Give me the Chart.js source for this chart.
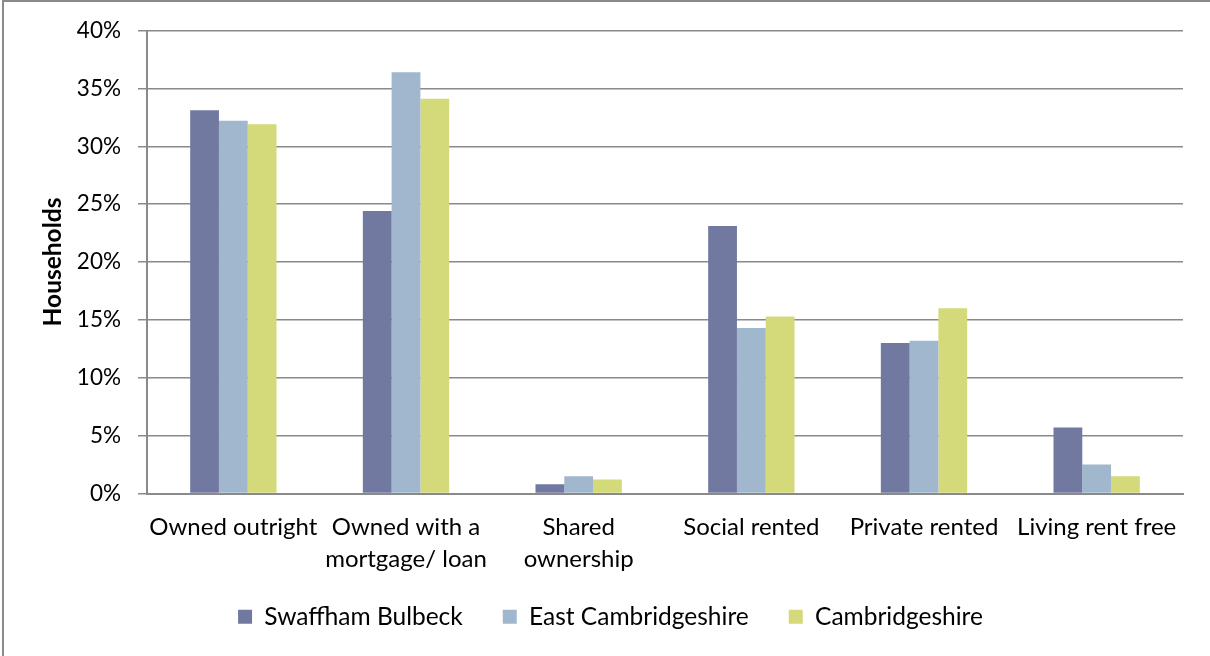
<!DOCTYPE html>
<html>
<head>
<meta charset="utf-8">
<title>Households by tenure</title>
<script src="https://cdn.jsdelivr.net/npm/chart.js@4"></script>
<style>
  html, body { margin: 0; padding: 0; background: #fff; }
  #wrap { position: relative; width: 1210px; height: 656px; overflow: hidden; }
  #frame { position: absolute; left: 2px; top: 0px; width: 1300px; height: 700px;
           border-left: 2px solid #8a8a8a; border-top: 2px solid #8a8a8a; box-sizing: border-box; pointer-events: none; }
  canvas { position: absolute; left: 0; top: 0; }
</style>
</head>
<body>
<div id="wrap">
  <canvas id="chart" width="1210" height="656"></canvas>
  <div id="frame"></div>
</div>
<script>
// tenure categories (two-line labels where the axis wraps them)
const categories = [
  'Owned outright',
  ['Owned with a', 'mortgage/ loan'],
  ['Shared', 'ownership'],
  'Social rented',
  'Private rented',
  'Living rent free'
];

// share of households, percent
const swaffhamBulbeck = [33.1, 24.4, 0.8, 23.1, 13.0, 5.7];
const eastCambridgeshire = [32.2, 36.4, 1.5, 14.3, 13.2, 2.5];
const cambridgeshire = [31.9, 34.1, 1.2, 15.3, 16.0, 1.5];

const yTicks = [0, 5, 10, 15, 20, 25, 30, 35, 40];

const FONT = 'Lato, "Open Sans", sans-serif';

// the legend is laid out under the axis labels; pull it up a bit and
// re-centre it on the canvas instead of on the padded layout width
const legendNudge = {
    id: 'legendNudge',
    afterLayout(chart) {
        let lg = chart.legend;
        if (!lg) return;
        lg.top -= 17;
        lg.bottom -= 17;
        lg.left += 19;
        lg.right += 19;
    }
};

let ctx = document.getElementById('chart');

let myChart = new Chart(ctx, {
    type: 'bar',
    data: {
        labels: categories,
        datasets: [{
            label: 'Swaffham Bulbeck',
            data: swaffhamBulbeck,
            backgroundColor: '#7179a0',
            borderWidth: 0
        }, {
            label: 'East Cambridgeshire',
            data: eastCambridgeshire,
            backgroundColor: '#a1b7ce',
            borderWidth: 0
        }, {
            label: 'Cambridgeshire',
            data: cambridgeshire,
            backgroundColor: '#d4da79',
            borderWidth: 0
        }]
    },
    plugins: [legendNudge],
    options: {
        responsive: false,
        animation: false,
        devicePixelRatio: 1,
        layout: {
            padding: {left: 0, right: 27, top: 30, bottom: 0}
        },
        datasets: {
            bar: {categoryPercentage: 0.5, barPercentage: 1.0}
        },
        plugins: {
            tooltip: {enabled: false},
            legend: {
                position: 'bottom',
                labels: {
                    color: '#000',
                    font: {family: FONT, size: 24.5},
                    boxWidth: 14,
                    boxHeight: 14,
                    padding: 40
                }
            }
        },
        scales: {
            x: {
                afterFit: function (scale) { scale.height = 88; },
                grid: {display: false, drawTicks: false},
                border: {display: true, color: '#8a8a8a', width: 2},
                ticks: {
                    color: '#000',
                    padding: 18,
                    maxRotation: 0,
                    autoSkip: false,
                    font: {family: FONT, size: 24, lineHeight: 1.33}
                }
            },
            y: {
                min: 0,
                max: 40,
                afterFit: function (scale) { scale.width = 147; },
                afterBuildTicks: function (scale) {
                    scale.ticks = yTicks.map(v => ({value: v}));
                },
                grid: {color: '#8a8a8a', lineWidth: 1.5, tickLength: 9, drawTicks: true},
                border: {display: true, color: '#8a8a8a', width: 2},
                ticks: {
                    color: '#000',
                    padding: 17,
                    font: {family: FONT, size: 22.5},
                    callback: v => v + '%'
                },
                title: {
                    display: true,
                    text: 'Households',
                    color: '#000',
                    font: {family: FONT, size: 24.5, weight: 'bold'},
                    padding: {top: 38, bottom: 0}
                }
            }
        }
    }
});
</script>
</body>
</html>
